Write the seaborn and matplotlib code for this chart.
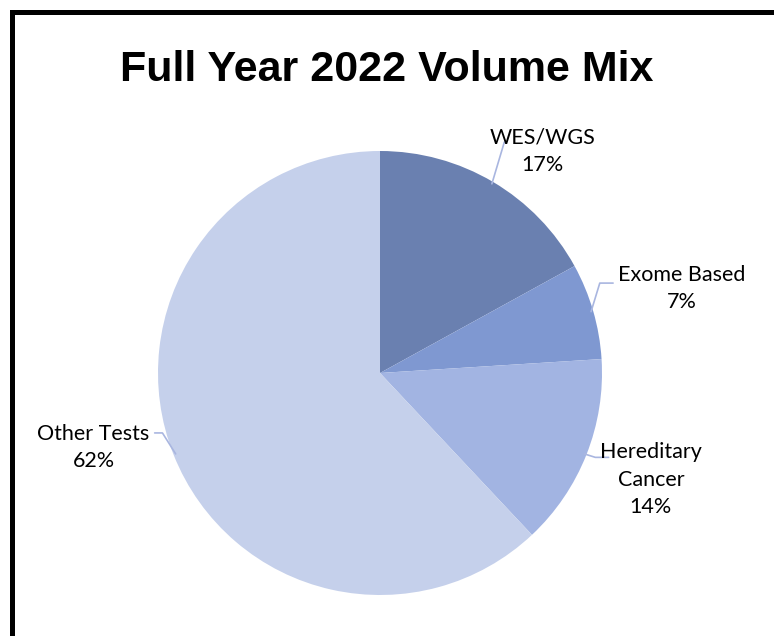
import matplotlib
matplotlib.use("Agg")
import numpy as np
import matplotlib.pyplot as plt
import seaborn as sns
from matplotlib.patches import Rectangle

sns.set_style("white")
plt.rcParams["font.family"] = ["Lato", "DejaVu Sans"]

# Data
categories = ["WES/WGS", "Exome Based", "Hereditary\nCancer", "Other Tests"]
shares = [17, 7, 14, 62]
colors = ["#6A80B0", "#7F98D1", "#A2B4E2", "#C5D0EB"]

# label layout (data units, pie radius = 1)
label_pos = [(0.73, 1.0), (1.36, 0.38), (1.22, -0.48), (-1.29, -0.335)]
elbow_pos = [(0.56, 1.04), (0.99, 0.405), (0.97, -0.38), (-0.98, -0.27)]
tail_pos = [(0.56, 1.04), (1.05, 0.405), (1.03, -0.38), (-1.015, -0.27)]

fig = plt.figure(figsize=(7.74, 6.36), dpi=100)
ax = fig.add_axes([158 / 774, 41 / 636, 444 / 774, 444 / 636])

wedges, _ = ax.pie(shares, colors=colors, startangle=90, counterclock=False,
                   radius=1, wedgeprops=dict(linewidth=0))
ax.set_xlim(-1, 1)
ax.set_ylim(-1, 1)
ax.set_aspect("equal")
ax.axis("off")

for w, cat, val, lp, ep, tp in zip(wedges, categories, shares, label_pos, elbow_pos, tail_pos):
    ang = np.deg2rad((w.theta1 + w.theta2) / 2)
    ax_pt = (0.99 * np.cos(ang), 0.99 * np.sin(ang))
    ax.plot([ax_pt[0], ep[0], tp[0]], [ax_pt[1], ep[1], tp[1]],
            color="#A9B6E0", lw=1.2, clip_on=False)
    ax.text(lp[0], lp[1], f"{cat}\n{val}%", ha="center", va="center",
            fontsize=15.5, color="black", linespacing=1.45, clip_on=False)

fig.text(0.5, 1 - 70 / 636, "Full Year 2022 Volume Mix", ha="center", va="center",
         fontsize=31, fontweight="bold", color="black",
         family=["Liberation Sans", "DejaVu Sans"])

# chart border (only top and left edges are visible in the frame)
fig.patches.append(Rectangle((12 / 774, -0.1), 1.2, 1 - 11.5 / 636 + 0.1,
                             transform=fig.transFigure, fill=False,
                             edgecolor="black", linewidth=3.6))

fig.savefig("out.png", dpi=100)
